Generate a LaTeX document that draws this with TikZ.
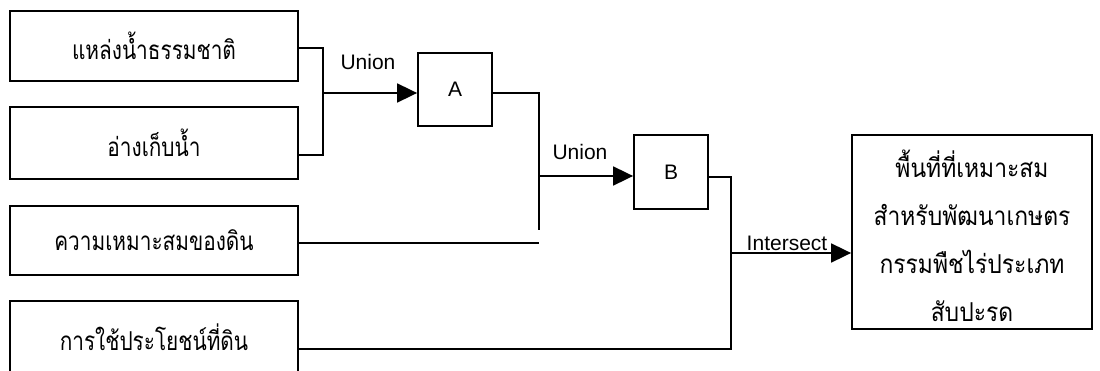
\documentclass[tikz,border=0pt]{standalone}
\usepackage{fontspec}
\newfontfamily\thaifont[Script=Thai,FakeStretch=0.8]{Loma}
\newfontfamily\thaiwide[Script=Thai,FakeStretch=0.88]{Loma}
\newfontfamily\labelfont{Liberation Sans}
\usetikzlibrary{arrows.meta}
\begin{document}
\begin{tikzpicture}[x=1pt,y=-1pt,
  line width=1.8pt,
  box/.style={draw, rectangle, inner sep=0pt, minimum width=288pt,
    font=\thaifont\fontsize{26}{30}\selectfont},
  opbox/.style={draw, rectangle, inner sep=0pt, minimum width=74pt,
    minimum height=73pt, font=\labelfont\fontsize{21}{24}\selectfont},
  resultbox/.style={draw, rectangle, inner sep=0pt, minimum width=240pt,
    minimum height=194pt, align=center,
    font=\thaiwide\fontsize{26}{48}\selectfont},
  oplabel/.style={font=\labelfont\fontsize{21}{24}\selectfont, inner sep=0pt},
  flow/.style={-{Triangle[length=20pt,width=19pt]}},
  wire/.style={line cap=rect}
]
\useasboundingbox (0,0) rectangle (1100,371);

% input layers
\node[box, minimum height=70pt] (water)  at (154,46)    {แหล่งน้ำธรรมชาติ};
\node[box, minimum height=72pt] (res)    at (154,143)   {อ่างเก็บน้ำ};
\node[box, minimum height=69pt] (soil)   at (154,240.5) {ความเหมาะสมของดิน};
\node[box, minimum height=72pt] (land)   at (154,337)   {การใช้ประโยชน์ที่ดิน};

% intermediate and final results
\node[opbox] (A) at (455,89.5) {A};
\node[opbox, minimum height=74pt] (B) at (671,172) {B};
\node[draw, rectangle, minimum width=240pt, minimum height=194pt] (out) at (972,232) {};
\node[resultbox, draw=none, minimum height=0pt] (outtext) at (972,236)
  {พื้นที่ที่เหมาะสม\\สำหรับพัฒนาเกษตร\\กรรมพืชไร่ประเภท\\สับปะรด};

% junction points
\coordinate (j1a) at (323,48);
\coordinate (j1b) at (323,155);
\coordinate (j1)  at (323,93);
\coordinate (j2a) at (539,93);
\coordinate (j2b) at (539,229);
\coordinate (j2)  at (539,176);
\coordinate (soilend) at (539,243);
\coordinate (j3a) at (731,177);
\coordinate (j3b) at (731,349);
\coordinate (j3)  at (731,253);

% first union
\draw[wire] (water.east |- j1a) -- (j1a) -- (j1b) -- (res.east |- j1b);
\draw[flow] (j1) -- (A.west |- j1);
\node[oplabel] (u1) at (368,62) {Union};

% second union
\draw[wire] (A.east |- j2a) -- (j2a) -- (j2b);
\draw (soil.east |- soilend) -- (soilend);
\draw[flow] (j2) -- (B.west |- j2);
\node[oplabel] (u2) at (580,152) {Union};

% intersect
\draw[wire] (B.east |- j3a) -- (j3a) -- (j3b) -- (land.east |- j3b);
\draw[flow] (j3) -- (out.west |- j3);
\node[oplabel] (ix) at (787,243) {Intersect};
\end{tikzpicture}
\end{document}
